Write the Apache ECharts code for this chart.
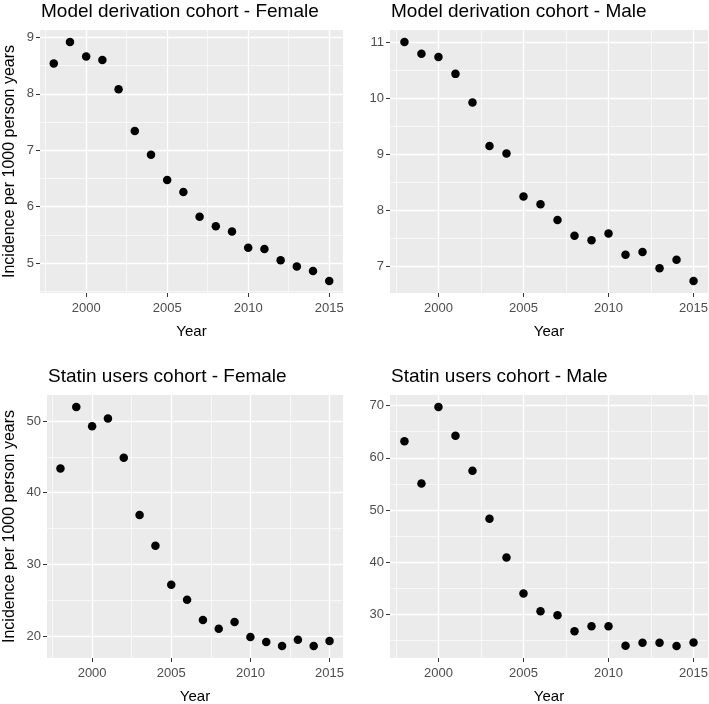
<!DOCTYPE html>
<html>
<head>
<meta charset="utf-8">
<script src="https://cdn.jsdelivr.net/npm/echarts@6/dist/echarts.min.js"></script>
<style>
html,body{margin:0;padding:0;background:#fff;}
#chart{width:709px;height:704px;}
</style>
</head>
<body>
<div id="chart"></div>
<script>
var years = [1998,1999,2000,2001,2002,2003,2004,2005,2006,2007,2008,2009,2010,2011,2012,2013,2014,2015];
var derivFemale = [8.54,8.92,8.66,8.60,8.08,7.34,6.92,6.47,6.26,5.82,5.65,5.56,5.27,5.25,5.05,4.94,4.86,4.68];
var derivMale   = [11.0,10.79,10.73,10.43,9.92,9.14,9.01,8.24,8.10,7.82,7.54,7.46,7.58,7.20,7.25,6.96,7.11,6.73];
var statinFemale = [43.35,51.95,49.26,50.33,44.88,36.88,32.6,27.16,25.07,22.23,21.02,21.95,19.86,19.16,18.6,19.49,18.6,19.3];
var statinMale   = [63.15,55.09,69.74,64.24,57.52,48.3,40.88,33.97,30.58,29.81,26.74,27.7,27.7,23.98,24.56,24.56,23.92,24.62];

var titles = ['Model derivation cohort - Female','Model derivation cohort - Male','Statin users cohort - Female','Statin users cohort - Male'];
var xTitle = 'Year';
var yTitle = 'Incidence per 1000 person years';
var xTicks = [2000,2005,2010,2015];
var xMinor = [1997.5,2002.5,2007.5,2012.5];
var yTicks = [[5,6,7,8,9],[7,8,9,10,11],[20,30,40,50],[30,40,50,60,70]];
var yMinor = [[4.5,5.5,6.5,7.5,8.5],[7.5,8.5,9.5,10.5],[25,35,45],[25,35,45,55,65]];
var seriesData = [derivFemale, derivMale, statinFemale, statinMale];

// layout (pixels)
var grids = [
  {left:40, top:30, width:303, height:263},
  {left:390, top:30, width:318, height:263},
  {left:47, top:395, width:296, height:263},
  {left:390, top:395, width:318, height:263}
];

function expand(arr){
  var mn = Math.min.apply(null, arr), mx = Math.max.apply(null, arr);
  var d = (mx - mn) * 0.05;
  return [mn - d, mx + d];
}
var xr = expand(years);
function plain(v){ return String(v); }

var FONT = 'Liberation Sans, Arial, sans-serif';
var option = {
  animation:false,
  backgroundColor:'#ffffff',
  title: [], grid: [], xAxis: [], yAxis: [], series: []
};

for (var g = 0; g < 4; g++) {
  var gr = grids[g];
  option.grid.push({left:gr.left, top:gr.top, width:gr.width, height:gr.height,
    show:true, backgroundColor:'#EBEBEB', borderWidth:0, containLabel:false, outerBoundsMode:'none'});
  option.title.push({text:titles[g], left:gr.left + 1, top:gr.top - 28, padding:0,
    textStyle:{fontFamily:FONT, fontSize:19, fontWeight:'normal', color:'#000'}});
  var yr = expand(seriesData[g]);
  // major x
  option.xAxis.push({type:'value', gridIndex:g, min:xr[0], max:xr[1],
    axisLine:{show:false, onZero:false},
    axisTick:{show:true, length:4, customValues:xTicks, lineStyle:{color:'#333333', width:1}},
    axisLabel:{show:true, customValues:xTicks, formatter:plain, color:'#4D4D4D', fontSize:13, fontFamily:FONT, margin:9},
    splitLine:{show:true, lineStyle:{color:'#ffffff', width:1.3}},
    name:xTitle, nameLocation:'middle', nameGap:31,
    nameTextStyle:{color:'#000', fontSize:15, fontFamily:FONT}
  });
  // minor x
  option.xAxis.push({type:'value', gridIndex:g, min:xr[0], max:xr[1], position:'bottom',
    axisLine:{show:false, onZero:false},
    axisTick:{show:false, customValues:xMinor},
    axisLabel:{show:false},
    splitLine:{show:true, lineStyle:{color:'#ffffff', width:0.6}}
  });
  var yAx = {type:'value', gridIndex:g, min:yr[0], max:yr[1],
    axisLine:{show:false, onZero:false},
    axisTick:{show:true, length:4, customValues:yTicks[g], lineStyle:{color:'#333333', width:1}},
    axisLabel:{show:true, customValues:yTicks[g], formatter:plain, color:'#4D4D4D', fontSize:13, fontFamily:FONT, margin:6},
    splitLine:{show:true, lineStyle:{color:'#ffffff', width:1.3}}
  };
  if (g % 2 === 0) {
    yAx.name = yTitle; yAx.nameLocation = 'middle'; yAx.nameRotate = 90;
    yAx.nameGap = gr.left - 18;
    yAx.nameTextStyle = {color:'#000', fontSize:16, fontFamily:FONT};
  }
  option.yAxis.push(yAx);
  option.yAxis.push({type:'value', gridIndex:g, min:yr[0], max:yr[1], position:'left',
    axisLine:{show:false, onZero:false},
    axisTick:{show:false, customValues:yMinor[g]},
    axisLabel:{show:false},
    splitLine:{show:true, lineStyle:{color:'#ffffff', width:0.6}}
  });
  var pts = [];
  for (var i = 0; i < years.length; i++) pts.push([years[i], seriesData[g][i]]);
  option.series.push({type:'scatter', xAxisIndex:2*g, yAxisIndex:2*g, data:pts,
    symbol:'circle', symbolSize:8.5, itemStyle:{color:'#000000', opacity:1}, z:5});
}

var chart = echarts.init(document.getElementById('chart'), null, {renderer:'canvas'});
chart.setOption(option);
</script>
</body>
</html>
